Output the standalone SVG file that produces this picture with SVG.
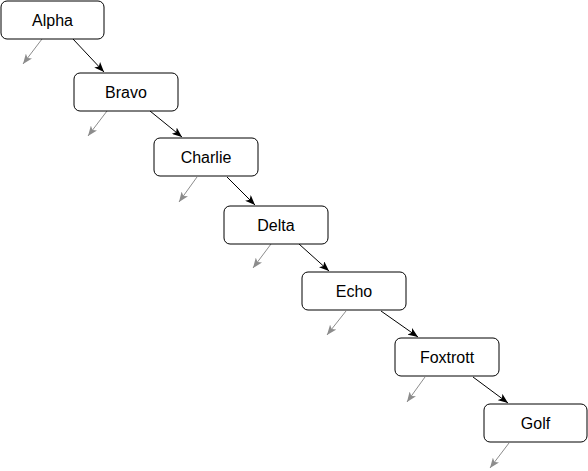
<svg xmlns="http://www.w3.org/2000/svg" width="588" height="471" viewBox="0 0 588 471">
<style>
.box{fill:#fff;stroke:#000;stroke-width:1}
.lbl{font-family:"Liberation Sans",Arial,sans-serif;font-size:16px;fill:#000;text-anchor:middle}
.e{stroke:#000;stroke-width:1;fill:none}
.g{stroke:#8c8c8c;stroke-width:1;fill:none}
</style>
<defs>
<marker id="ab" viewBox="0 0 10 8" refX="10" refY="4" markerWidth="10" markerHeight="8" markerUnits="userSpaceOnUse" orient="auto">
<path d="M0,0 L10,4 L0,8 L2.5,4 z" fill="#000"/>
</marker>
<marker id="ag" viewBox="0 0 10 8" refX="10" refY="4" markerWidth="10" markerHeight="8" markerUnits="userSpaceOnUse" orient="auto">
<path d="M0,0 L10,4 L0,8 L2.5,4 z" fill="#8c8c8c"/>
</marker>
</defs>
<g id="connectors">
<line class="e" x1="73" y1="39" x2="104" y2="72" marker-end="url(#ab)"/>
<line class="g" x1="42" y1="39" x2="23" y2="64" marker-end="url(#ag)"/>
<line class="e" x1="150" y1="111" x2="182" y2="137" marker-end="url(#ab)"/>
<line class="g" x1="107" y1="111" x2="88" y2="136" marker-end="url(#ag)"/>
<line class="e" x1="227" y1="177" x2="255" y2="205" marker-end="url(#ab)"/>
<line class="g" x1="197" y1="177" x2="179" y2="202" marker-end="url(#ag)"/>
<line class="e" x1="299" y1="244" x2="329" y2="271" marker-end="url(#ab)"/>
<line class="g" x1="271" y1="244" x2="253" y2="268" marker-end="url(#ag)"/>
<line class="e" x1="381" y1="311" x2="418" y2="337" marker-end="url(#ab)"/>
<line class="g" x1="346" y1="311" x2="327" y2="335" marker-end="url(#ag)"/>
<line class="e" x1="473" y1="377" x2="508" y2="403" marker-end="url(#ab)"/>
<line class="g" x1="425" y1="377" x2="407" y2="402" marker-end="url(#ag)"/>
<line class="g" x1="509" y1="443" x2="490" y2="468" marker-end="url(#ag)"/>
</g>
<g id="alpha"><rect class="box" x="1" y="1" width="103" height="38" rx="6"/><text class="lbl" x="52.5" y="26">Alpha</text></g>
<g id="bravo"><rect class="box" x="74" y="73" width="104" height="38" rx="6"/><text class="lbl" x="126" y="98">Bravo</text></g>
<g id="charlie"><rect class="box" x="154" y="138" width="104" height="38" rx="6"/><text class="lbl" x="206" y="163">Charlie</text></g>
<g id="delta"><rect class="box" x="224" y="206" width="104" height="38" rx="6"/><text class="lbl" x="276" y="231">Delta</text></g>
<g id="echo"><rect class="box" x="302" y="272" width="104" height="38" rx="6"/><text class="lbl" x="354" y="297">Echo</text></g>
<g id="foxtrott"><rect class="box" x="395" y="338" width="104" height="38" rx="6"/><text class="lbl" x="447" y="363">Foxtrott</text></g>
<g id="golf"><rect class="box" x="484" y="404" width="103" height="38" rx="6"/><text class="lbl" x="535.5" y="429">Golf</text></g>
</svg>
